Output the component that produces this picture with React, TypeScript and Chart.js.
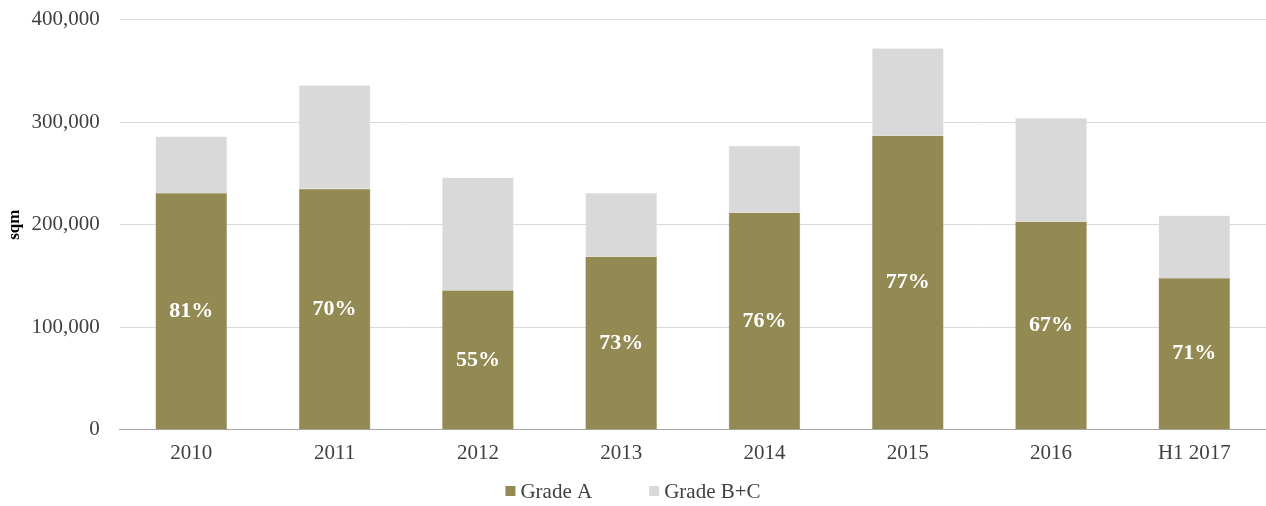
import React, { useEffect, useRef } from "react";
import { Chart, registerables } from "chart.js";

Chart.register(...registerables);

const categories = ["2010", "2011", "2012", "2013", "2014", "2015", "2016", "H1 2017"];
const gradeA = [231000, 235000, 136000, 169000, 212000, 287000, 203000, 148000];
const gradeBC = [55000, 101000, 110000, 62000, 65000, 85000, 101000, 61000];
const shareLabels = ["81%", "70%", "55%", "73%", "76%", "77%", "67%", "71%"];
const yTicks = [0, 100000, 200000, 300000, 400000];

const FONT = "'Liberation Serif', 'Times New Roman', serif";
const TEXT = "#404040";
const FS = 21;

const shareLabelPlugin = {
  id: "shareLabels",
  afterDatasetsDraw(chart: any) {
    const meta = chart.getDatasetMeta(0);
    const ctx = chart.ctx;
    ctx.save();
    ctx.fillStyle = "#ffffff";
    ctx.font = `bold 22px ${FONT}`;
    ctx.textAlign = "center";
    ctx.textBaseline = "middle";
    meta.data.forEach((bar: any, i: number) => {
      const mid = (bar.y + bar.base) / 2;
      ctx.fillText(shareLabels[i], bar.x, mid);
    });
    ctx.restore();
  },
};

const bottomLegendPlugin = {
  id: "bottomLegend",
  afterDraw(chart: any) {
    const ctx = chart.ctx;
    const ds = chart.data.datasets;
    const box = 10;
    const gapText = 5;
    const gapItems = 57;
    ctx.save();
    ctx.font = `${FS}px ${FONT}`;
    const widths = ds.map((d: any) => box + gapText + ctx.measureText(d.label).width);
    const total = widths.reduce((a: number, b: number) => a + b, 0) + gapItems * (ds.length - 1);
    let x = chart.width / 2 - total / 2;
    const y = 492;
    ctx.textBaseline = "middle";
    ctx.textAlign = "left";
    ds.forEach((d: any, i: number) => {
      ctx.fillStyle = d.backgroundColor;
      ctx.fillRect(x, y - box / 2 - 1, box, box);
      ctx.fillStyle = TEXT;
      ctx.fillText(d.label, x + box + gapText, y);
      x += widths[i] + gapItems;
    });
    ctx.restore();
  },
};

export default function App() {
  const ref = useRef<HTMLCanvasElement | null>(null);
  useEffect(() => {
    if (!ref.current) return;
    const chart = new Chart(ref.current, {
      type: "bar",
      data: {
        labels: categories,
        datasets: [
          {
            label: "Grade A",
            data: gradeA,
            backgroundColor: "#938953",
            borderColor: "#a69e72",
            borderWidth: 0.5,
            barPercentage: 0.5,
            categoryPercentage: 1,
          },
          {
            label: "Grade B+C",
            data: gradeBC,
            backgroundColor: "#d9d9d9",
            borderColor: "#e6e6e6",
            borderWidth: 0.5,
            barPercentage: 0.5,
            categoryPercentage: 1,
          },
        ],
      },
      options: {
        responsive: false,
        animation: false,
        layout: { padding: { top: 0, right: 0, left: 0, bottom: 37 } },
        plugins: {
          legend: { display: false },
          tooltip: { enabled: false },
        },
        scales: {
          x: {
            stacked: true,
            grid: { display: false },
            border: { color: "#a6a6a6", width: 1 },
            ticks: { color: TEXT, font: { family: FONT, size: FS }, padding: 3 },
          },
          y: {
            stacked: true,
            min: 0,
            max: 400000,
            afterBuildTicks: (axis: any) => {
              axis.ticks = yTicks.map((v) => ({ value: v }));
            },
            grid: {
              color: "#d9d9d9",
              lineWidth: 1,
              drawTicks: true,
              tickLength: 13,
              tickColor: "rgba(0,0,0,0)",
            },
            border: { display: false },
            ticks: {
              color: TEXT,
              padding: 7,
              font: { family: FONT, size: FS },
              callback: (v: any) => Number(v).toLocaleString("en-US"),
            },
            title: {
              display: true,
              text: "sqm",
              color: "#000000",
              font: { family: FONT, size: 17, weight: "bold" },
              padding: { top: 4, bottom: 0 },
            },
          },
        },
      },
      plugins: [shareLabelPlugin, bottomLegendPlugin],
    });
    return () => chart.destroy();
  }, []);
  return (
    <div style={{ position: "absolute", left: 0, top: 0, width: 1266, height: 506 }}>
      <canvas ref={ref} width={1266} height={506} />
    </div>
  );
}
